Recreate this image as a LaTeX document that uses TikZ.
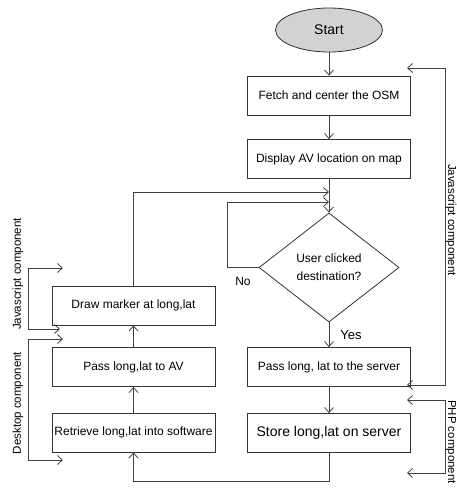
\documentclass[tikz,border=0pt]{standalone}
\usepackage{fontspec}
\setmainfont{Liberation Sans}
\usetikzlibrary{arrows.meta,shapes.geometric}
\begin{document}
\begin{tikzpicture}[x=1pt,y=-1pt,
  ln/.style={draw=black!75, line width=0.8pt},
  arr/.style={-{Straight Barb[length=5pt,width=9pt]}},
  barr/.style={{Straight Barb[length=5pt,width=9pt]}-{Straight Barb[length=5pt,width=9pt]}},
  box/.style={draw=black!80, line width=0.8pt, rectangle, minimum width=163pt, minimum height=39pt, inner sep=0pt, font=\fontsize{12}{14}\selectfont},
  lbl/.style={inner sep=0pt, font=\fontsize{11.5}{13}\selectfont}]
\useasboundingbox (0,0) rectangle (456,488);
% nodes
\node[ellipse, draw=black!80, line width=0.8pt, fill=gray!35, minimum width=107pt, minimum height=44pt, inner sep=0pt, font=\fontsize{14}{16}\selectfont] (start) at (329,30) {Start};
\node[box] (fetch) at (329,95.5) {Fetch and center the OSM};
\node[box] (disp) at (329,159) {Display AV location on map};
\node[diamond, draw=black!80, line width=0.8pt, minimum width=140pt, minimum height=109pt, inner sep=0pt, align=center, font=\fontsize{12}{18}\selectfont] (dec) at (329,267.5) {User clicked\\destination?};
\node[box] (psrv) at (329,367) {Pass long, lat to the server};
\node[box, font=\fontsize{14}{16}\selectfont] (store) at (329,433) {Store long,lat on server};
\node[box] (drawm) at (133.5,305.5) {Draw marker at long,lat};
\node[box] (pav) at (133.5,367) {Pass long,lat to AV};
\node[box] (retr) at (133.5,432.5) {Retrieve long,lat into software};
\node[lbl, font=\fontsize{12}{14}\selectfont] (no) at (243,281) {No};
\node[lbl, font=\fontsize{13}{15}\selectfont] (yes) at (351,335) {Yes};
% helper coordinates
\coordinate (j1) at (329,192);
\coordinate (j2) at (329,202);
\coordinate (nl) at (227,202);
% connectors
\draw[ln,arr] (start.south) -- (fetch.north);
\draw[ln,arr] (fetch.south) -- (disp.north);
\draw[ln,arr] (disp.south) -- (dec.north);
\draw[ln,arr] (drawm.north) |- (j1);
\draw[ln,arr] (dec.west) -| (nl) -- (j2);
\draw[ln,arr] (dec.south) -- (psrv.north);
\draw[ln,arr] (psrv.south) -- (store.north);
\draw[ln,arr] (store.south) -- ++(0,28) -| (retr.south);
\draw[ln,arr] (retr.north) -- (pav.south);
\draw[ln,arr] (pav.north) -- (drawm.south);
% brackets
\coordinate (jsT) at (407,68);  \coordinate (jsTR) at (445,68);
\coordinate (jsBR) at (445,385); \coordinate (jsB) at (407,385);
\coordinate (phT) at (407,400); \coordinate (phTR) at (445,400);
\coordinate (phBR) at (445,473); \coordinate (phB) at (407,473);
\coordinate (ljT) at (63,268); \coordinate (ljTL) at (28,268);
\coordinate (ljBL) at (28,329); \coordinate (ljB) at (60,329);
\coordinate (dkT) at (63,339); \coordinate (dkTL) at (28,339);
\coordinate (dkBL) at (28,460); \coordinate (dkB) at (63,460);
\draw[ln,barr] (jsT) -- (jsTR) -- (jsBR) -- (jsB);
\draw[ln,barr] (phT) -- (phTR) -- (phBR) -- (phB);
\draw[ln,barr] (ljT) -- (ljTL) -- (ljBL) -- (ljB);
\draw[ln,barr] (dkT) -- (dkTL) -- (dkBL) -- (dkB);
\node[lbl, rotate=-90] (jsr) at (451,220) {Javascript component};
\node[lbl, rotate=-90] (php) at (451,442) {PHP component};
\node[lbl, rotate=90] (jsl) at (18,274) {Javascript component};
\node[lbl, rotate=90] (dsk) at (18,403) {Desktop component};
\end{tikzpicture}
\end{document}
